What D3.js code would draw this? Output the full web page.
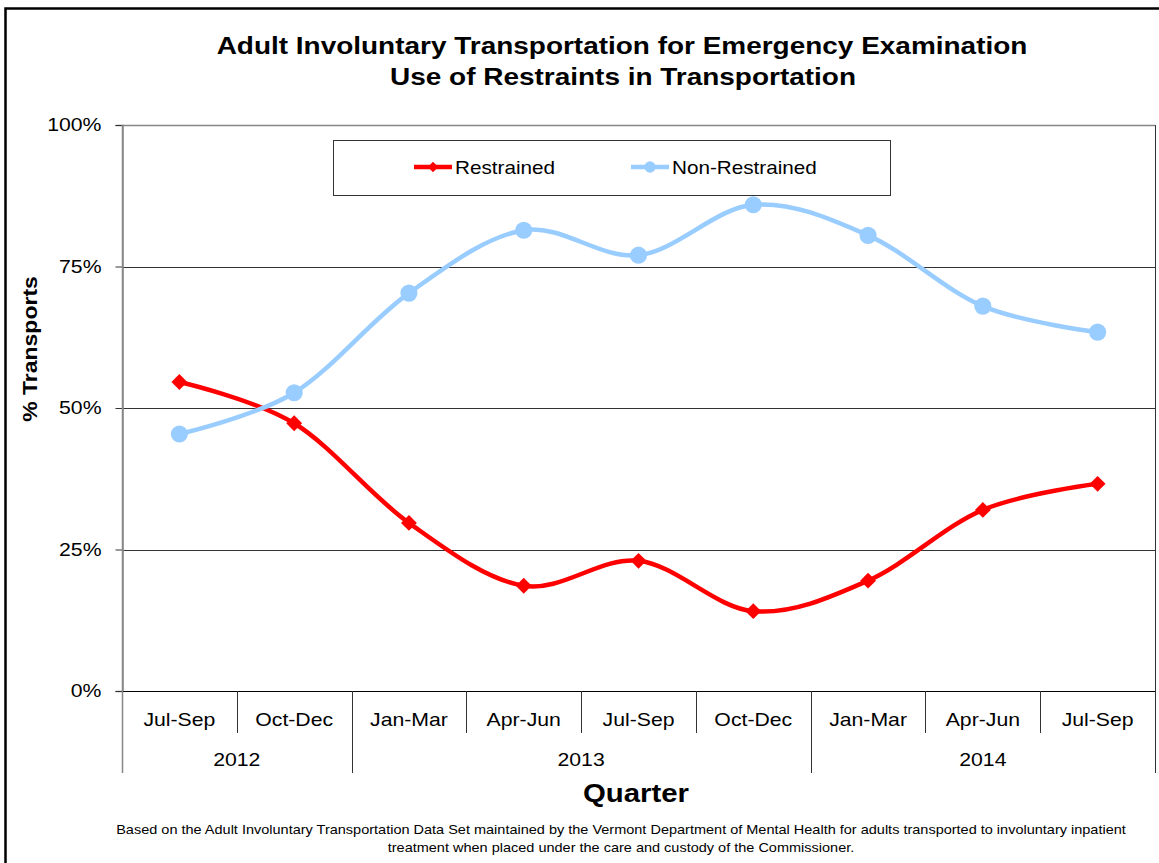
<!DOCTYPE html>
<html>
<head>
<meta charset="utf-8">
<script src="https://cdn.jsdelivr.net/npm/d3@7"></script>
<style>
  body { margin: 0; background: #fff; }
  svg { display: block; font-family: "Liberation Sans", Arial, sans-serif; }
</style>
</head>
<body>
<div id="chart"></div>
<script>
// Data
const quarters = ['Jul-Sep', 'Oct-Dec', 'Jan-Mar', 'Apr-Jun', 'Jul-Sep', 'Oct-Dec', 'Jan-Mar', 'Apr-Jun', 'Jul-Sep']
const years = [
  { year: '2012', start: 0, end: 2 },
  { year: '2013', start: 2, end: 6 },
  { year: '2014', start: 6, end: 9 },
]
const restrained = [54.6, 47.3, 29.7, 18.6, 23.0, 14.1, 19.5, 32.0, 36.6]
const nonRestrained = [45.4, 52.7, 70.3, 81.4, 77.0, 85.9, 80.5, 68.0, 63.4]
const yTicks = [0, 25, 50, 75, 100]

// the original text is set a bit wider than Arial
const SX = 1.18

function stretchedText(parent, x, y, sx = SX) {
  return parent.append('text')
    .attr('transform', `translate(${x},${y}) scale(${sx},1)`)
}

function draw() {
  const dimensions = {
    width: 1159,
    height: 863,
    left: 122,
    right: 1155,
    top: 125,
    bottom: 691,
  }

  const svg = d3.select('#chart')
    .append('svg')
    .attr('width', dimensions.width)
    .attr('height', dimensions.height)

  // outer chart border (only top and left show in the frame)
  svg.append('path')
    .attr('d', `M5.5,${dimensions.height} V8.5 H${dimensions.width}`)
    .attr('fill', 'none')
    .attr('stroke', '#000')
    .attr('stroke-width', 2.5)

  // Title
  stretchedText(svg, 622, 54, 1.165)
    .attr('text-anchor', 'middle')
    .attr('font-weight', 'bold')
    .attr('font-size', 24)
    .text('Adult Involuntary Transportation for Emergency Examination')
  stretchedText(svg, 623, 85, 1.165)
    .attr('text-anchor', 'middle')
    .attr('font-weight', 'bold')
    .attr('font-size', 24)
    .text('Use of Restraints in Transportation')

  // Scales
  const xScale = d3.scaleBand()
    .domain(d3.range(quarters.length))
    .range([dimensions.left, dimensions.right])

  const yScale = d3.scaleLinear()
    .domain([0, 100])
    .range([dimensions.bottom, dimensions.top])

  const xPos = i => xScale(i) + xScale.bandwidth() / 2

  // Gridlines
  svg.append('g')
    .selectAll('line')
    .data(yTicks.filter(d => d > 0))
    .join('line')
    .attr('x1', dimensions.left)
    .attr('x2', dimensions.right)
    .attr('y1', d => Math.round(yScale(d)) + 0.5)
    .attr('y2', d => Math.round(yScale(d)) + 0.5)
    .attr('stroke', d => d === 100 ? '#868686' : '#333')
    .attr('stroke-width', d => d === 100 ? 1.5 : 1)

  // Y axis
  const yAxis = d3.axisLeft(yScale)
    .tickValues(yTicks)
    .tickFormat(d => d + '%')
    .tickSize(7)

  const yAxisG = svg.append('g')
    .attr('transform', `translate(${dimensions.left + 0.5},0)`)
    .call(yAxis)
  yAxisG.select('.domain').attr('stroke', '#868686').attr('stroke-width', 1.5)
  yAxisG.selectAll('.tick line').attr('stroke', '#333')
  yAxisG.selectAll('.tick text')
    .attr('x', 0)
    .attr('transform', `translate(-21,0) scale(${SX},1)`)
    .attr('font-size', 18)
    .attr('font-family', '"Liberation Sans", Arial, sans-serif')
    .attr('fill', '#000')

  svg.append('text')
    .attr('transform', `translate(37,${(dimensions.top + dimensions.bottom) / 2 - 59}) rotate(-90) scale(1.15,1)`)
    .attr('text-anchor', 'middle')
    .attr('font-weight', 'bold')
    .attr('font-size', 20)
    .text('% Transports')

  // X axis (multi-level)
  const xAxisG = svg.append('g')
  xAxisG.append('line')
    .attr('x1', dimensions.left)
    .attr('x2', dimensions.right)
    .attr('y1', dimensions.bottom + 0.5)
    .attr('y2', dimensions.bottom + 0.5)
    .attr('stroke', '#000')
    .attr('stroke-width', 1.2)

  // short separators between quarters
  xAxisG.selectAll('.sep')
    .data(d3.range(1, quarters.length))
    .join('line')
    .attr('class', 'sep')
    .attr('x1', i => Math.round(xScale(i)) + 0.5)
    .attr('x2', i => Math.round(xScale(i)) + 0.5)
    .attr('y1', dimensions.bottom)
    .attr('y2', dimensions.bottom + 42)
    .attr('stroke', '#333')

  // long separators between years
  const yearBounds = [0, ...years.map(y => y.end)]
  xAxisG.selectAll('.ysep')
    .data(yearBounds)
    .join('line')
    .attr('class', 'ysep')
    .attr('x1', i => Math.round(i === quarters.length ? dimensions.right : xScale(i)) + 0.5)
    .attr('x2', i => Math.round(i === quarters.length ? dimensions.right : xScale(i)) + 0.5)
    .attr('y1', i => i === 0 || i === quarters.length ? dimensions.top : dimensions.bottom)
    .attr('y2', dimensions.bottom + 82)
    .attr('stroke', i => i === 0 ? '#868686' : '#333')
    .attr('stroke-width', i => i === 0 ? 1.5 : 1)

  quarters.forEach((q, i) => {
    stretchedText(xAxisG, xPos(i), dimensions.bottom + 35)
      .attr('text-anchor', 'middle')
      .attr('font-size', 18)
      .text(q)
  })

  years.forEach(d => {
    const x = (xScale(d.start) + (d.end === quarters.length ? dimensions.right : xScale(d.end))) / 2
    stretchedText(xAxisG, x, dimensions.bottom + 75)
      .attr('text-anchor', 'middle')
      .attr('font-size', 18)
      .text(d.year)
  })

  stretchedText(svg, 636, 802, 1.13)
    .attr('text-anchor', 'middle')
    .attr('font-weight', 'bold')
    .attr('font-size', 26)
    .text('Quarter')

  // Footnote
  stretchedText(svg, 621, 834, 1.21)
    .attr('text-anchor', 'middle')
    .attr('font-size', 12)
    .text('Based on the Adult Involuntary Transportation Data Set maintained by the Vermont Department of Mental Health for adults transported to involuntary inpatient')
  stretchedText(svg, 621, 852, 1.21)
    .attr('text-anchor', 'middle')
    .attr('font-size', 12)
    .text('treatment when placed under the care and custody of the Commissioner.')

  // Lines
  const series = [
    { name: 'Restrained', values: restrained, color: '#FF0000', marker: 'diamond' },
    { name: 'Non-Restrained', values: nonRestrained, color: '#99CCFF', marker: 'circle' },
  ]

  const lineGenerator = d3.line()
    .x((d, i) => xPos(i))
    .y(d => yScale(d))
    .curve(d3.curveCatmullRom.alpha(0))

  const diamond = d3.symbol().type(d3.symbolDiamond2).size(160)
  const circle = d3.symbol().type(d3.symbolCircle).size(230)

  const seriesG = svg.append('g')
    .selectAll('g')
    .data(series)
    .join('g')

  seriesG.append('path')
    .attr('d', d => lineGenerator(d.values))
    .attr('fill', 'none')
    .attr('stroke', d => d.color)
    .attr('stroke-width', 4.5)
    .attr('stroke-linejoin', 'round')

  seriesG.selectAll('path.marker')
    .data(d => d.values.map((v, i) => ({ v, i, s: d })))
    .join('path')
    .attr('class', 'marker')
    .attr('transform', d => `translate(${xPos(d.i)},${yScale(d.v)})`)
    .attr('d', d => d.s.marker === 'diamond' ? diamond() : circle())
    .attr('fill', d => d.s.color)

  // Legend
  const legend = svg.append('g')
  legend.append('rect')
    .attr('x', 333.5)
    .attr('y', 140.5)
    .attr('width', 557)
    .attr('height', 55)
    .attr('fill', '#fff')
    .attr('stroke', '#333')

  const legendItems = legend.selectAll('g')
    .data(series)
    .join('g')
    .attr('transform', (d, i) => `translate(${i === 0 ? 414 : 631},167)`)

  legendItems.append('line')
    .attr('x1', 0)
    .attr('x2', 38)
    .attr('stroke', d => d.color)
    .attr('stroke-width', 4.5)
  legendItems.append('path')
    .attr('transform', 'translate(19,0)')
    .attr('d', d => d.marker === 'diamond' ? d3.symbol().type(d3.symbolDiamond2).size(70)() : d3.symbol().type(d3.symbolCircle).size(100)())
    .attr('fill', d => d.color)
  legendItems.append('text')
    .attr('transform', `translate(41,7) scale(1.15,1)`)
    .attr('font-size', 18)
    .text(d => d.name)
}

draw()
</script>
</body>
</html>
